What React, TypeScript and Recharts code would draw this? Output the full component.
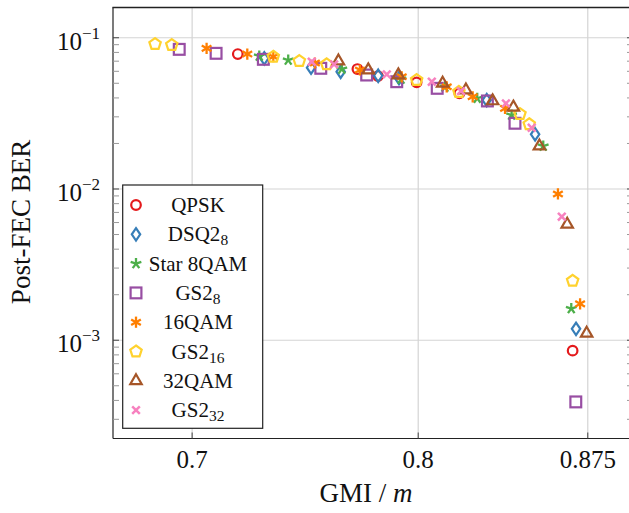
import { ScatterChart, Scatter, XAxis, YAxis, ReferenceLine } from "recharts";

// axis setup
const X_DOMAIN = [0.665, 0.895];
const Y_DOMAIN = [2.24e-4, 0.1585];
const GMI_TICKS = [0.7, 0.8, 0.875];
const BER_DECADES = [0.1, 0.01, 0.001];

// [GMI, post-FEC BER]
const QPSK = [
  [0.7202, 0.078], [0.7731, 0.0621], [0.7822, 0.0558], [0.7993, 0.0507],
  [0.8182, 0.0429], [0.8683, 0.000853],
];
const DSQ2_8 = [
  [0.7319, 0.0731], [0.7526, 0.0634], [0.7657, 0.0596], [0.7823, 0.0561],
  [0.7915, 0.0541], [0.8303, 0.0387], [0.8517, 0.023], [0.8698, 0.00119],
];
const STAR_8QAM = [
  [0.7297, 0.0757], [0.7425, 0.0712], [0.7662, 0.0621], [0.7924, 0.0533],
  [0.8118, 0.0472], [0.8261, 0.0398], [0.8413, 0.0308], [0.8553, 0.0192],
  [0.8677, 0.00162],
];
const GS2_8 = [
  [0.6943, 0.0838], [0.7106, 0.0789], [0.7315, 0.072], [0.7569, 0.0628],
  [0.7772, 0.0567], [0.7905, 0.0512], [0.8084, 0.0463], [0.8306, 0.0382],
  [0.8428, 0.0272], [0.8697, 0.000391],
];
const QAM16 = [
  [0.7064, 0.0851], [0.7244, 0.078], [0.7359, 0.0749], [0.7543, 0.0681],
  [0.7742, 0.0612], [0.7927, 0.0552], [0.8126, 0.0474], [0.8241, 0.0407],
  [0.8384, 0.0341], [0.8618, 0.00927], [0.8716, 0.00174],
];
const GS2_16 = [
  [0.6836, 0.0909], [0.691, 0.0895], [0.7359, 0.0749], [0.7474, 0.0701],
  [0.7595, 0.0667], [0.7993, 0.0525], [0.818, 0.0438], [0.845, 0.0313],
  [0.8491, 0.0268], [0.8683, 0.00247],
];
const QAM32 = [
  [0.7647, 0.0701], [0.7779, 0.0612], [0.7912, 0.0567], [0.8108, 0.05],
  [0.8211, 0.0451], [0.8329, 0.0382], [0.8421, 0.0347], [0.8536, 0.0192],
  [0.8659, 0.00584], [0.8745, 0.00111],
];
const GS2_32 = [
  [0.7529, 0.0694], [0.7628, 0.0667], [0.7861, 0.0573], [0.806, 0.0512],
  [0.8189, 0.0444], [0.8388, 0.0368], [0.8502, 0.0254], [0.8635, 0.00656],
];

const SERIES = [
  { name: "QPSK", sub: "", data: QPSK, color: "#e41a1c", mark: "circle" },
  { name: "DSQ2", sub: "8", data: DSQ2_8, color: "#377eb8", mark: "diamond" },
  { name: "Star 8QAM", sub: "", data: STAR_8QAM, color: "#4daf4a", mark: "star" },
  { name: "GS2", sub: "8", data: GS2_8, color: "#984ea3", mark: "square" },
  { name: "16QAM", sub: "", data: QAM16, color: "#ff7f00", mark: "asterisk" },
  { name: "GS2", sub: "16", data: GS2_16, color: "#ffd22e", mark: "pentagon" },
  { name: "32QAM", sub: "", data: QAM32, color: "#a65628", mark: "triangle" },
  { name: "GS2", sub: "32", data: GS2_32, color: "#f781bf", mark: "cross" },
];

const FONT = "'Liberation Serif', 'Times New Roman', serif";

// log minor ticks 1..9 x 10^k inside the domain
const BER_TICKS: number[] = [];
[0.1, 0.01, 0.001, 0.0001].forEach((d) => {
  for (let m = 1; m <= 9; m++) {
    const v = m * d;
    if (v >= Y_DOMAIN[0] && v <= Y_DOMAIN[1]) BER_TICKS.push(v);
  }
});
BER_TICKS.sort((a, b) => a - b);

const isMajor = (v: number) => BER_DECADES.some((d) => Math.abs(v / d - 1) < 1e-6);

function polygon(cx: number, cy: number, r: number, n: number) {
  const pts = [];
  for (let i = 0; i < n; i++) {
    const a = -Math.PI / 2 + (2 * Math.PI * i) / n;
    pts.push(`${cx + r * Math.cos(a)},${cy + r * Math.sin(a)}`);
  }
  return pts.join(" ");
}

function rays(cx: number, cy: number, r: number, angles: number[], color: string, w = 2.3) {
  return angles.map((deg, i) => {
    const a = (deg * Math.PI) / 180;
    return (
      <line
        key={i}
        x1={cx}
        y1={cy}
        x2={cx + r * Math.cos(a)}
        y2={cy + r * Math.sin(a)}
        stroke={color}
        strokeWidth={w}
      />
    );
  });
}

function Mark({ kind, cx, cy, color }: { kind: string; cx: number; cy: number; color: string }) {
  const sw = 2.2;
  switch (kind) {
    case "circle":
      return <circle cx={cx} cy={cy} r={4.8} fill="none" stroke={color} strokeWidth={sw} />;
    case "diamond":
      return (
        <path
          d={`M${cx},${cy - 6.2} L${cx + 4.2},${cy} L${cx},${cy + 6.2} L${cx - 4.2},${cy} Z`}
          fill="none"
          stroke={color}
          strokeWidth={sw}
        />
      );
    case "square":
      return <rect x={cx - 5.4} y={cy - 5.4} width={10.8} height={10.8} fill="none" stroke={color} strokeWidth={sw} />;
    case "pentagon":
      return <polygon points={polygon(cx, cy, 6, 5)} fill="none" stroke={color} strokeWidth={sw} />;
    case "triangle":
      return <polygon points={polygon(cx, cy, 6.6, 3)} fill="none" stroke={color} strokeWidth={sw} />;
    case "star":
      return <g>{rays(cx, cy, 5.6, [-90, -18, 54, 126, 198], color)}</g>;
    case "asterisk":
      return <g>{rays(cx, cy, 5.6, [-90, -30, 30, 90, 150, 210], color)}</g>;
    case "cross":
      return <g>{rays(cx, cy, 5.4, [45, 135, 225, 315], color, 2.5)}</g>;
    default:
      return null;
  }
}

const LeftTick = (props: any) => {
  const { x, y, payload } = props;
  const major = isMajor(payload.value);
  const exp = Math.round(Math.log10(payload.value));
  return (
    <g>
      <line x1={x} x2={x + 6} y1={y} y2={y} stroke={major ? "#444" : "#999"} />
      {major && (
        <text x={x - 13} y={y + 12} textAnchor="end" fontSize={25} fontFamily={FONT} fill="#111">
          10
          <tspan dy={-11} fontSize={17}>
            {"\u2212" + -exp}
          </tspan>
        </text>
      )}
    </g>
  );
};

const RightTick = (props: any) => {
  const { x, y, payload } = props;
  const major = isMajor(payload.value);
  return <line x1={x} x2={x - 6} y1={y} y2={y} stroke={major ? "#444" : "#999"} />;
};

const BottomTick = (props: any) => {
  const { x, y, payload } = props;
  return (
    <g>
      <line x1={x} x2={x} y1={y} y2={y - 6} stroke="#444" />
      <text x={x} y={y + 29} textAnchor="middle" fontSize={25} fontFamily={FONT} fill="#111">
        {payload.value}
      </text>
    </g>
  );
};

export default function App() {
  return (
    <div style={{ position: "absolute", left: 0, top: 0, width: 629, height: 513, overflow: "hidden", background: "#fff" }}>
      <ScatterChart width={640} height={513} margin={{ top: 7.5, right: 0, bottom: 0, left: 0 }}>
        <XAxis
          dataKey="gmi"
          type="number"
          domain={X_DOMAIN}
          allowDataOverflow
          ticks={GMI_TICKS}
          interval={0}
          height={74.5}
          tickSize={0}
          tickMargin={0}
          tickLine={false}
          tick={<BottomTick />}
          axisLine={{ stroke: "#222", strokeWidth: 1.2 }}
        />
        <YAxis
          dataKey="ber"
          type="number"
          scale="log"
          domain={Y_DOMAIN}
          allowDataOverflow
          ticks={BER_TICKS}
          interval={0}
          width={113}
          tickSize={0}
          tickMargin={0}
          tickLine={false}
          tick={<LeftTick />}
          axisLine={{ stroke: "#222", strokeWidth: 1.2 }}
        />
        <YAxis
          yAxisId="right"
          orientation="right"
          dataKey="ber"
          type="number"
          scale="log"
          domain={Y_DOMAIN}
          allowDataOverflow
          ticks={BER_TICKS}
          interval={0}
          width={7}
          tickSize={0}
          tickMargin={0}
          tickLine={false}
          tick={<RightTick />}
          axisLine={false}
        />
        {GMI_TICKS.map((v) => (
          <ReferenceLine key={"x" + v} x={v} stroke="#d4d4d4" strokeWidth={1.2} />
        ))}
        {BER_DECADES.map((v) => (
          <ReferenceLine key={"y" + v} y={v} stroke="#d4d4d4" strokeWidth={1.2} />
        ))}
        {SERIES.map((s, i) => (
          <Scatter
            key={i}
            name={s.name + s.sub}
            data={s.data.map(([gmi, ber]) => ({ gmi, ber }))}
            isAnimationActive={false}
            shape={(p: any) => <Mark kind={s.mark} cx={p.cx} cy={p.cy} color={s.color} />}
          />
        ))}
      </ScatterChart>

      <svg
        width={629}
        height={513}
        style={{ position: "absolute", left: 0, top: 0, pointerEvents: "none" }}
        fontFamily={FONT}
      >
        {/* top frame edge of the plot box */}
        <line x1={112.4} x2={629} y1={7.5} y2={7.5} stroke="#222" strokeWidth={1.3} />
        <rect x={122.7} y={185} width={140} height={243.3} fill="#fff" stroke="#222" strokeWidth={1.2} />
        {SERIES.map((s, i) => {
          const cy = 205 + i * 29.3;
          return (
            <g key={i}>
              <Mark kind={s.mark} cx={136} cy={cy} color={s.color} />
              <text x={198} y={cy + 7} textAnchor="middle" fontSize={21} fill="#111">
                {s.name}
                {s.sub && (
                  <tspan dy={4} fontSize={15.5}>
                    {s.sub}
                  </tspan>
                )}
              </text>
            </g>
          );
        })}
        <text x={366} y={502} textAnchor="middle" fontSize={27} fill="#111">
          GMI /{" "}
          <tspan fontStyle="italic">m</tspan>
        </text>
        <text
          x={30}
          y={222}
          textAnchor="middle"
          fontSize={27}
          fill="#111"
          transform="rotate(-90 30 222)"
        >
          Post-FEC BER
        </text>
      </svg>
    </div>
  );
}
